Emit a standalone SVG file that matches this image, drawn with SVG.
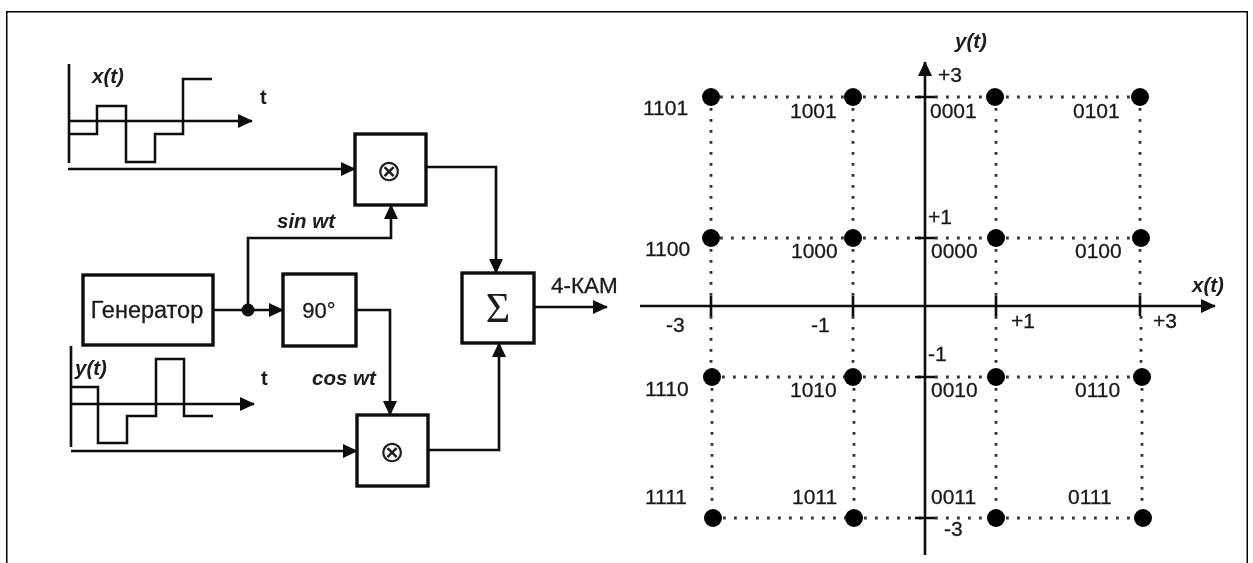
<svg xmlns="http://www.w3.org/2000/svg" width="1253" height="563" viewBox="0 0 1253 563">
<defs>
<style>
text{font-family:"Liberation Sans",Arial,sans-serif;fill:#1a1a1a;font-size:21px;stroke:#1a1a1a;stroke-width:.3}
.i{font-style:italic;font-weight:bold;font-size:20.5px;stroke:none}
.l{fill:none;stroke:#111;stroke-width:2.5}
.a{fill:none;stroke:#111;stroke-width:2.6}
.b{fill:#fff;stroke:#111;stroke-width:3.4}
.d{fill:none;stroke:#333;stroke-width:2.8;stroke-dasharray:2.8 8.2}
.m{text-anchor:middle}
.x{font-size:30px;font-family:"DejaVu Sans",sans-serif;stroke:none}
</style>
<marker id="ah" viewBox="0 0 15 14" refX="14" refY="7" markerWidth="15" markerHeight="14" markerUnits="userSpaceOnUse" orient="auto"><path d="M0 0L15 7L0 14Z" fill="#111"/></marker>
<filter id="soft" x="0" y="0" width="100%" height="100%"><feGaussianBlur stdDeviation="0.5"/></filter>
</defs>
<rect width="1253" height="563" fill="#fff"/>
<g filter="url(#soft)">
<path d="M6 563V11H1248V563" fill="none" stroke="#000" stroke-width="3"/>
<g id="connectors">
<path class="a" marker-end="url(#ah)" d="M69 121H252"/>
<path class="a" d="M69 64V163"/>
<path class="l" d="M69 134H97V106H126V162H155V134H183V79H212"/>
<path class="a" marker-end="url(#ah)" d="M68 169H355"/>
<path class="a" marker-end="url(#ah)" d="M71 404H254"/>
<path class="a" d="M71 346V447"/>
<path class="l" d="M71 387H98V443H127V416H156V359H184V416H213"/>
<path class="a" marker-end="url(#ah)" d="M71 451H357"/>
<path class="a" marker-end="url(#ah)" d="M213 310H283"/>
<path class="a" marker-end="url(#ah)" d="M248 310V238H391V205"/>
<path class="a" marker-end="url(#ah)" d="M356 310H390V415"/>
<path class="a" marker-end="url(#ah)" d="M426 167H496V273"/>
<path class="a" marker-end="url(#ah)" d="M428 450H499V343"/>
<path class="a" marker-end="url(#ah)" d="M534 307H607"/>
<circle cx="248" cy="310" r="6.5" fill="#111"/>
</g>
<g id="node-mixer-top"><rect class="b" x="355" y="134" width="71" height="71"/><text x="389" y="181" class="m x">⊗</text></g>
<g id="node-mixer-bottom"><rect class="b" x="357" y="415" width="71" height="71"/><text x="392" y="462" class="m x">⊗</text></g>
<g id="node-sum"><rect class="b" x="462" y="273" width="72" height="70"/><text x="498" y="322" class="m" style="font-size:42px;font-family:'Liberation Serif',serif;stroke:none">Σ</text></g>
<g id="node-phase"><rect class="b" x="283" y="274" width="73" height="72"/><text x="319" y="318" class="m" style="font-size:22px">90°</text></g>
<g id="node-generator"><rect class="b" x="83" y="275" width="130" height="70"/><text x="147" y="318" class="m" style="font-size:23.5px">Генератор</text></g>
<g id="labels">
<text x="92" y="83" class="i">x(t)</text>
<text x="260" y="104" style="font-weight:bold;font-size:20px;stroke:none">t</text>
<text x="75" y="375" class="i">y(t)</text>
<text x="261" y="385" style="font-weight:bold;font-size:20px;stroke:none">t</text>
<text x="277" y="228" class="i">sin wt</text>
<text x="312" y="385" class="i">cos wt</text>
<text x="551" y="293" style="font-size:22.5px">4-КАМ</text>
</g>
<g id="grid">
<path class="d" d="M720 97H845M863 97H925M935 97H986M1006 97H1130"/>
<path class="d" d="M720 238H845M863 238H925M935 238H986M1006 238H1130"/>
<path class="d" d="M722 377H844M863 377H925M935 377H986M1006 377H1132"/>
<path class="d" d="M723 518H845M864 518H925M935 518H986M1006 518H1133"/>
<path class="d" d="M711 108V228M711 249V296M711 316V367M712 388V508"/>
<path class="d" d="M853 108V228M853 249V296M853 316V367M854 388V508"/>
<path class="d" d="M996 108V228M996 249V296M996 316V367M996 388V508"/>
<path class="d" d="M1140 108V228M1140 249V296M1141 316V367M1142 388V508"/>
</g>
<g id="axes">
<path class="a" marker-end="url(#ah)" d="M640 306H1215"/>
<path class="a" marker-end="url(#ah)" d="M925 555V62"/>
<path class="a" d="M711 296V316M853 296V316M996 296V316M1140 296V316M915 97H935M915 238H935M915 377H935M915 518H935"/>
</g>
<g id="points" fill="#000">
<circle cx="711" cy="97" r="9"/><circle cx="853" cy="97" r="9"/><circle cx="995" cy="97" r="9"/><circle cx="1140" cy="97" r="9"/>
<circle cx="711" cy="238" r="9"/><circle cx="853" cy="238" r="9"/><circle cx="996" cy="238" r="9"/><circle cx="1141" cy="238" r="9"/>
<circle cx="712" cy="377" r="9"/><circle cx="853" cy="377" r="9"/><circle cx="996" cy="377" r="9"/><circle cx="1142" cy="377" r="9"/>
<circle cx="713" cy="518" r="9"/><circle cx="854" cy="518" r="9"/><circle cx="996" cy="518" r="9"/><circle cx="1143" cy="518" r="9"/>
</g>
<g id="point-labels">
<text x="643" y="115">1101</text><text x="790" y="118">1001</text><text x="930" y="118">0001</text><text x="1073" y="118">0101</text>
<text x="645" y="256">1100</text><text x="791" y="258">1000</text><text x="931" y="258">0000</text><text x="1075" y="258">0100</text>
<text x="645" y="396">1110</text><text x="790" y="397">1010</text><text x="931" y="397">0010</text><text x="1075" y="397">0110</text>
<text x="645" y="504">1111</text><text x="792" y="504">1011</text><text x="931" y="504">0011</text><text x="1068" y="504">0111</text>
</g>
<g id="axis-labels">
<text x="955" y="48" class="i">y(t)</text>
<text x="1192" y="292" class="i">x(t)</text>
<text x="938" y="82">+3</text>
<text x="928" y="224">+1</text>
<text x="928" y="361">-1</text>
<text x="944" y="536">-3</text>
<text x="666" y="332">-3</text>
<text x="811" y="332">-1</text>
<text x="1011" y="328">+1</text>
<text x="1153" y="328">+3</text>
</g>
</g>
</svg>
